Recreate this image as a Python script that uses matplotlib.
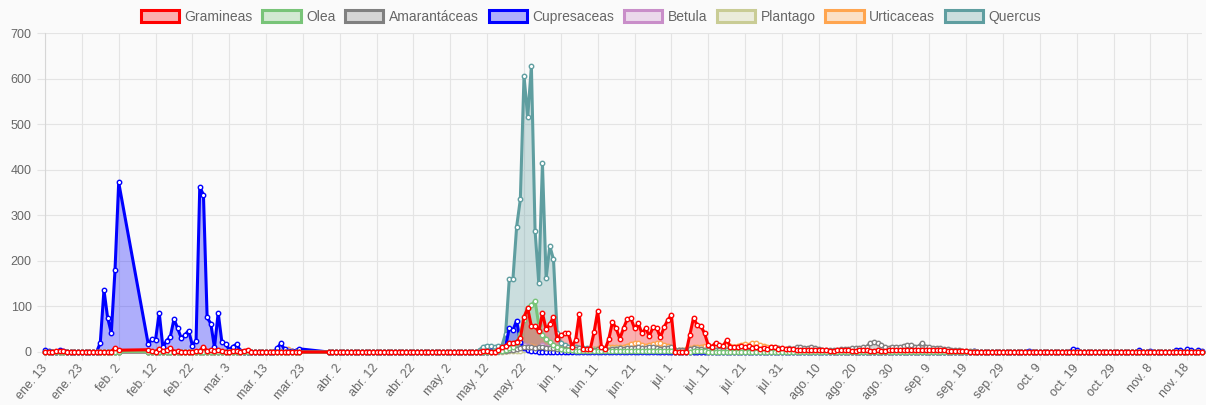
import numpy as np
import pandas as pd
import matplotlib
matplotlib.use("Agg")
import matplotlib.pyplot as plt
from matplotlib.patches import Patch

plt.rcParams["font.family"] = ["Liberation Sans", "DejaVu Sans"]

# days with data: three runs of daily samples (gaps are joined by straight lines)
DATE_SPANS = [("2020-01-13", "2020-02-02"),
              ("2020-02-10", "2020-03-22"),
              ("2020-03-30", "2020-11-22")]
MONTHS_ES = ["ene", "feb", "mar", "abr", "may", "jun", "jul", "ago", "sep", "oct", "nov", "dic"]

# values: ene 13-feb 2 (21) | feb 10-mar 22 (42) | mar 30-nov 22 (rows of 10, last row 8)
GRAMINEAS = [
    0, 1, 1, 2, 3, 2, 1, 0, 0, 0, 0, 0, 0, 0, 1, 1, 1, 0, 1, 9, 4,
    5, 2, 1, 7, 2, 4, 9, 1, 2, 1, 1, 1, 1, 2, 3, 12, 2, 5, 3, 5, 2,
    1, 1, 3, 2, 1, 3, 5, 0, 0, 0, 0, 0, 0, 0, 0, 0, 0, 1, 0, 0, 0,
    0, 0, 0, 0, 0, 0, 0, 0, 0, 0,          # mar 30
    0, 0, 0, 0, 0, 0, 0, 0, 0, 0,          # abr 9
    0, 0, 0, 0, 0, 0, 0, 0, 0, 0,          # abr 19
    0, 0, 0, 0, 0, 0, 0, 0, 0, 0,          # abr 29
    0, 1, 2, 2, 0, 0, 4, 10, 13, 19,       # may 9
    20, 23, 30, 77, 96, 56, 56, 45, 85, 50,  # may 19
    61, 77, 28, 37, 41, 42, 12, 26, 83, 6,   # may 29
    7, 7, 43, 90, 12, 6, 28, 66, 52, 29,     # jun 8
    52, 72, 74, 52, 63, 41, 52, 35, 54, 53,  # jun 18
    32, 54, 70, 81, 0, 0, 0, 0, 37, 75,      # jun 28
    59, 57, 41, 15, 12, 20, 15, 13, 26, 12,  # jul 8
    10, 10, 13, 10, 13, 8, 11, 7, 9, 6,      # jul 18
    10, 12, 7, 8, 7, 6, 6, 5, 5, 5,        # jul 28
    4, 4, 4, 4, 4, 4, 3, 3, 4, 5,          # ago 7
    4, 4, 3, 3, 4, 4, 4, 3, 3, 4,          # ago 17
    3, 3, 4, 4, 4, 4, 5, 4, 4, 4,          # ago 27
    5, 5, 4, 4, 5, 4, 4, 4, 3, 3,          # sep 6
    3, 2, 2, 2, 1, 0, 0, 0, 0, 0,          # sep 16
    0, 0, 1, 0, 0, 0, 0, 0, 0, 0,          # sep 26
    0, 0, 0, 0, 0, 1, 0, 0, 0, 0,          # oct 6
    0, 0, 0, 0, 0, 0, 0, 0, 0, 0,          # oct 16
    0, 0, 0, 0, 0, 0, 0, 0, 0, 0,          # oct 26
    0, 0, 0, 0, 0, 0, 0, 0, 0, 0,          # nov 5
    0, 0, 0, 0, 0, 0, 0, 0,                # nov 15
]

OLEA = [
    0, 0, 0, 0, 0, 0, 0, 0, 0, 0, 0, 0, 0, 0, 0, 0, 1, 1, 1, 1, 1,
    1, 1, 1, 1, 1, 1, 1, 1, 1, 1, 1, 1, 1, 1, 1, 1, 1, 1, 1, 1, 0,
    0, 0, 0, 0, 0, 0, 0, 0, 0, 0, 0, 0, 0, 0, 0, 0, 0, 0, 0, 0, 0,
    0, 0, 0, 0, 0, 0, 0, 0, 0, 0,          # mar 30
    0, 0, 0, 0, 0, 0, 0, 0, 0, 0,          # abr 9
    0, 0, 0, 0, 0, 0, 0, 0, 0, 0,          # abr 19
    0, 0, 0, 0, 0, 0, 0, 0, 0, 0,          # abr 29
    0, 0, 1, 1, 1, 2, 2, 3, 5, 8,          # may 9
    12, 20, 40, 70, 97, 103, 112, 60, 38, 28,  # may 19
    22, 15, 10, 6, 5, 4, 4, 3, 3, 2,       # may 29
    2, 2, 2, 2, 2, 2, 2, 2, 2, 2,          # jun 8
    2, 2, 2, 2, 2, 2, 2, 2, 2, 2,          # jun 18
    2, 2, 2, 2, 1, 1, 1, 1, 1, 2,          # jun 28
    2, 2, 2, 1, 1, 1, 1, 1, 1, 1,          # jul 8
    1, 1, 1, 1, 1, 1, 1, 1, 1, 1,          # jul 18
    1, 1, 1, 1, 0, 0, 0, 0, 0, 0,          # jul 28
    0, 0, 0, 0, 0, 0, 0, 0, 0, 0,          # ago 7
    0, 0, 0, 0, 0, 0, 0, 0, 0, 0,          # ago 17
    0, 0, 0, 0, 0, 0, 0, 0, 0, 0,          # ago 27
    0, 0, 0, 0, 0, 0, 0, 0, 0, 0,          # sep 6
    0, 0, 0, 0, 0, 0, 0, 0, 0, 0,          # sep 16
    0, 0, 0, 0, 0, 0, 0, 0, 0, 0,          # sep 26
    0, 0, 0, 0, 0, 0, 0, 0, 0, 0,          # oct 6
    0, 0, 0, 0, 0, 0, 0, 0, 0, 0,          # oct 16
    0, 0, 0, 0, 0, 0, 0, 0, 0, 0,          # oct 26
    0, 0, 0, 0, 0, 0, 0, 0, 0, 0,          # nov 5
    0, 0, 0, 0, 0, 0, 0, 0,                # nov 15
]

AMARANTACEAS = [
    0, 0, 0, 0, 0, 0, 0, 0, 0, 0, 0, 0, 0, 0, 0, 0, 0, 0, 0, 0, 0,
    0, 0, 0, 0, 0, 0, 0, 0, 0, 0, 0, 0, 0, 0, 0, 0, 0, 0, 0, 0, 0,
    0, 0, 0, 0, 0, 0, 0, 0, 0, 0, 0, 0, 0, 0, 0, 0, 0, 0, 0, 0, 0,
    0, 0, 0, 0, 0, 0, 0, 0, 0, 0,          # mar 30
    0, 0, 0, 0, 0, 0, 0, 0, 0, 0,          # abr 9
    0, 0, 0, 0, 0, 0, 0, 0, 0, 0,          # abr 19
    0, 0, 0, 0, 0, 0, 0, 0, 0, 0,          # abr 29
    0, 0, 1, 1, 1, 2, 2, 3, 3, 4,          # may 9
    5, 6, 8, 10, 12, 10, 8, 10, 12, 9,     # may 19
    8, 8, 7, 6, 6, 5, 5, 6, 8, 6,          # may 29
    5, 4, 5, 6, 7, 6, 5, 6, 7, 8,          # jun 8
    7, 8, 9, 8, 10, 8, 9, 12, 10, 8,       # jun 18
    7, 8, 9, 10, 5, 4, 4, 5, 6, 8,         # jun 28
    7, 6, 5, 5, 4, 4, 5, 4, 4, 3,          # jul 8
    3, 3, 4, 3, 3, 3, 4, 5, 6, 5,          # jul 18
    4, 6, 8, 6, 5, 8, 7, 10, 12, 8,        # jul 28
    9, 10, 8, 6, 5, 5, 4, 4, 5, 6,         # ago 7
    7, 6, 8, 9, 8, 10, 12, 20, 22, 20,     # ago 17
    15, 10, 9, 12, 12, 10, 14, 15, 16, 12,  # ago 27
    12, 20, 12, 10, 8, 9, 8, 7, 6, 5,      # sep 6
    5, 4, 3, 3, 2, 2, 1, 1, 1, 1,          # sep 16
    1, 1, 1, 0, 0, 0, 0, 0, 0, 0,          # sep 26
    0, 0, 0, 0, 0, 0, 0, 0, 0, 0,          # oct 6
    0, 0, 0, 0, 0, 0, 0, 0, 0, 0,          # oct 16
    0, 0, 0, 0, 0, 0, 0, 0, 0, 0,          # oct 26
    0, 0, 0, 0, 0, 0, 0, 0, 0, 0,          # nov 5
    0, 0, 0, 0, 0, 0, 0, 0,                # nov 15
]

CUPRESACEAS = [
    4, 2, 1, 1, 4, 3, 1, 0, 0, 0, 0, 0, 0, 0, 0, 20, 136, 75, 42, 180, 372,
    18, 28, 27, 86, 10, 25, 33, 72, 52, 30, 38, 47, 14, 25, 362, 345, 76, 62, 10, 86, 22,
    18, 5, 12, 17, 3, 1, 0, 0, 0, 0, 0, 0, 0, 0, 8, 19, 6, 3, 2, 3, 7,
    0, 0, 0, 0, 0, 0, 0, 0, 0, 0,          # mar 30
    0, 0, 0, 0, 0, 0, 0, 0, 0, 0,          # abr 9
    0, 0, 0, 0, 0, 0, 0, 0, 0, 0,          # abr 19
    0, 0, 0, 0, 0, 0, 0, 0, 0, 0,          # abr 29
    0, 0, 1, 1, 2, 2, 3, 5, 12, 53,        # may 9
    48, 69, 22, 8, 4, 2, 2, 1, 1, 1,       # may 19
    1, 1, 0, 0, 0, 0, 0, 0, 0, 0,          # may 29
    0, 0, 0, 0, 0, 0, 0, 0, 0, 0,          # jun 8
    0, 0, 0, 0, 0, 0, 0, 0, 0, 0,          # jun 18
    0, 0, 0, 0, 0, 0, 0, 0, 0, 0,          # jun 28
    0, 0, 0, 0, 0, 0, 0, 0, 0, 0,          # jul 8
    0, 0, 0, 0, 0, 0, 0, 0, 0, 0,          # jul 18
    0, 0, 0, 0, 0, 0, 0, 0, 0, 0,          # jul 28
    0, 0, 0, 0, 0, 0, 0, 0, 0, 0,          # ago 7
    0, 0, 0, 0, 0, 0, 0, 0, 0, 0,          # ago 17
    0, 0, 0, 0, 0, 0, 0, 0, 0, 0,          # ago 27
    0, 0, 0, 0, 0, 0, 0, 0, 0, 0,          # sep 6
    0, 0, 0, 0, 0, 2, 0, 0, 0, 0,          # sep 16
    0, 0, 0, 0, 0, 0, 0, 0, 0, 0,          # sep 26
    3, 0, 0, 0, 0, 0, 0, 0, 0, 0,          # oct 6
    0, 0, 7, 5, 0, 0, 0, 0, 0, 0,          # oct 16
    0, 0, 0, 0, 0, 0, 0, 0, 0, 0,          # oct 26
    5, 0, 0, 3, 0, 0, 0, 0, 0, 0,          # nov 5
    5, 5, 0, 6, 4, 0, 4, 3,                # nov 15
]

BETULA = [
    0, 0, 0, 0, 0, 0, 0, 0, 0, 0, 0, 0, 0, 0, 0, 0, 0, 0, 0, 0, 0,
    0, 0, 0, 0, 0, 0, 0, 0, 0, 0, 0, 0, 0, 0, 0, 0, 0, 0, 0, 0, 0,
    0, 0, 0, 0, 0, 0, 0, 0, 0, 0, 0, 0, 0, 0, 0, 0, 0, 0, 0, 0, 0,
    0, 0, 0, 0, 0, 0, 0, 0, 0, 0,          # mar 30
    0, 0, 0, 0, 0, 0, 0, 0, 0, 0,          # abr 9
    0, 0, 0, 0, 0, 0, 0, 0, 0, 0,          # abr 19
    0, 0, 0, 0, 0, 0, 0, 0, 0, 0,          # abr 29
    0, 0, 0, 0, 1, 1, 2, 3, 4, 5,          # may 9
    6, 8, 10, 15, 13, 10, 8, 12, 15, 12,   # may 19
    10, 8, 6, 5, 4, 4, 3, 3, 3, 3,         # may 29
    2, 2, 2, 2, 2, 2, 2, 2, 2, 2,          # jun 8
    2, 2, 2, 2, 2, 2, 2, 2, 2, 2,          # jun 18
    1, 1, 1, 1, 1, 1, 1, 1, 1, 1,          # jun 28
    1, 1, 1, 0, 0, 0, 0, 0, 0, 0,          # jul 8
    0, 0, 0, 0, 0, 0, 0, 0, 0, 0,          # jul 18
    0, 0, 0, 0, 0, 0, 0, 0, 0, 0,          # jul 28
    0, 0, 0, 0, 0, 0, 0, 0, 0, 0,          # ago 7
    0, 0, 0, 0, 0, 0, 0, 0, 0, 0,          # ago 17
    0, 0, 0, 0, 0, 0, 0, 0, 0, 0,          # ago 27
    0, 0, 0, 0, 0, 0, 0, 0, 0, 0,          # sep 6
    0, 0, 0, 0, 0, 0, 0, 0, 0, 0,          # sep 16
    0, 0, 0, 0, 0, 0, 0, 0, 0, 0,          # sep 26
    0, 0, 0, 0, 0, 0, 0, 0, 0, 0,          # oct 6
    0, 0, 0, 0, 0, 0, 0, 0, 0, 0,          # oct 16
    0, 0, 0, 0, 0, 0, 0, 0, 0, 0,          # oct 26
    0, 0, 0, 0, 0, 0, 0, 0, 0, 0,          # nov 5
    0, 0, 0, 0, 0, 0, 0, 0,                # nov 15
]

PLANTAGO = [
    0, 0, 0, 0, 0, 0, 0, 0, 0, 0, 0, 0, 0, 0, 0, 0, 0, 0, 0, 0, 0,
    0, 0, 0, 0, 0, 0, 0, 0, 0, 0, 0, 0, 0, 0, 0, 0, 0, 0, 0, 0, 0,
    0, 0, 0, 0, 0, 0, 0, 0, 0, 0, 0, 0, 0, 0, 0, 0, 0, 0, 0, 0, 0,
    0, 0, 0, 0, 0, 0, 0, 0, 0, 0,          # mar 30
    0, 0, 0, 0, 0, 0, 0, 0, 0, 0,          # abr 9
    0, 0, 0, 0, 0, 0, 0, 0, 0, 0,          # abr 19
    0, 0, 0, 0, 0, 0, 0, 0, 0, 0,          # abr 29
    0, 0, 0, 0, 0, 1, 1, 1, 2, 2,          # may 9
    2, 3, 3, 4, 4, 5, 5, 5, 6, 6,          # may 19
    5, 5, 4, 4, 5, 5, 6, 6, 5, 5,          # may 29
    5, 6, 6, 7, 7, 6, 6, 7, 8, 8,          # jun 8
    7, 8, 8, 7, 8, 8, 7, 7, 8, 8,          # jun 18
    7, 7, 8, 8, 4, 4, 4, 5, 6, 7,          # jun 28
    6, 6, 5, 5, 5, 5, 6, 6, 6, 5,          # jul 8
    5, 5, 5, 4, 4, 5, 5, 4, 4, 4,          # jul 18
    3, 3, 3, 3, 3, 3, 2, 2, 2, 2,          # jul 28
    2, 2, 2, 2, 2, 2, 2, 1, 1, 1,          # ago 7
    1, 1, 1, 1, 1, 1, 1, 1, 1, 1,          # ago 17
    1, 1, 1, 1, 1, 1, 1, 1, 1, 1,          # ago 27
    1, 1, 1, 1, 1, 1, 1, 0, 0, 0,          # sep 6
    0, 0, 0, 0, 0, 0, 0, 0, 0, 0,          # sep 16
    0, 0, 0, 0, 0, 0, 0, 0, 0, 0,          # sep 26
    0, 0, 0, 0, 0, 0, 0, 0, 0, 0,          # oct 6
    0, 0, 0, 0, 0, 0, 0, 0, 0, 0,          # oct 16
    0, 0, 0, 0, 0, 0, 0, 0, 0, 0,          # oct 26
    0, 0, 0, 0, 0, 0, 0, 0, 0, 0,          # nov 5
    0, 0, 0, 0, 0, 0, 0, 0,                # nov 15
]

URTICACEAS = [
    0, 0, 0, 0, 0, 0, 0, 0, 0, 0, 0, 0, 0, 0, 0, 0, 0, 0, 0, 0, 0,
    0, 0, 0, 0, 0, 0, 0, 0, 0, 0, 0, 0, 0, 0, 0, 0, 0, 0, 0, 0, 0,
    0, 0, 0, 0, 0, 0, 0, 0, 0, 0, 0, 0, 0, 0, 0, 0, 3, 6, 3, 0, 0,
    0, 0, 0, 0, 0, 0, 0, 0, 0, 0,          # mar 30
    0, 0, 0, 0, 0, 0, 0, 0, 0, 0,          # abr 9
    0, 0, 0, 0, 0, 0, 0, 0, 0, 0,          # abr 19
    0, 0, 0, 0, 0, 0, 0, 0, 0, 0,          # abr 29
    0, 0, 0, 1, 1, 1, 2, 3, 3, 4,          # may 9
    5, 6, 8, 10, 12, 14, 12, 10, 12, 10,   # may 19
    8, 8, 7, 6, 6, 5, 5, 6, 6, 5,          # may 29
    5, 6, 6, 8, 8, 9, 10, 12, 12, 10,      # jun 8
    12, 14, 18, 20, 19, 16, 14, 15, 18, 19,  # jun 18
    19, 16, 14, 12, 5, 5, 5, 6, 8, 10,     # jun 28
    12, 12, 14, 12, 10, 10, 12, 14, 15, 14,  # jul 8
    12, 14, 16, 18, 16, 20, 19, 16, 14, 12,  # jul 18
    10, 8, 8, 6, 6, 5, 5, 4, 4, 3,         # jul 28
    3, 3, 2, 2, 2, 2, 2, 1, 1, 1,          # ago 7
    1, 1, 1, 1, 1, 1, 1, 1, 0, 0,          # ago 17
    0, 0, 0, 0, 0, 0, 0, 0, 0, 0,          # ago 27
    0, 0, 0, 0, 0, 0, 0, 0, 0, 0,          # sep 6
    0, 0, 0, 0, 0, 0, 0, 0, 0, 0,          # sep 16
    0, 0, 0, 0, 0, 0, 0, 0, 0, 0,          # sep 26
    0, 0, 0, 0, 0, 0, 0, 0, 0, 0,          # oct 6
    0, 0, 0, 0, 0, 0, 0, 0, 0, 0,          # oct 16
    0, 0, 0, 0, 0, 0, 0, 0, 0, 0,          # oct 26
    0, 0, 0, 0, 0, 0, 0, 0, 0, 0,          # nov 5
    0, 0, 0, 0, 0, 0, 0, 0,                # nov 15
]

QUERCUS = [
    0, 0, 0, 0, 0, 0, 0, 0, 0, 0, 0, 0, 0, 0, 0, 0, 0, 0, 0, 0, 0,
    0, 0, 0, 0, 0, 0, 0, 0, 0, 0, 0, 0, 0, 0, 0, 0, 0, 0, 0, 0, 0,
    0, 0, 0, 0, 0, 0, 0, 0, 0, 0, 0, 0, 0, 0, 0, 0, 0, 0, 0, 0, 0,
    0, 0, 0, 0, 0, 0, 0, 0, 0, 0,          # mar 30
    0, 0, 0, 0, 0, 0, 0, 0, 0, 0,          # abr 9
    0, 0, 0, 0, 0, 0, 0, 0, 0, 0,          # abr 19
    0, 0, 0, 0, 0, 0, 0, 0, 0, 0,          # abr 29
    0, 5, 12, 14, 14, 10, 14, 14, 40, 160,  # may 9
    161, 275, 335, 606, 515, 628, 266, 152, 414, 162,  # may 19
    233, 203, 41, 20, 15, 12, 10, 10, 9, 8,  # may 29
    8, 7, 7, 6, 6, 5, 5, 5, 4, 4,          # jun 8
    4, 4, 3, 3, 3, 3, 2, 2, 2, 2,          # jun 18
    2, 2, 2, 1, 1, 1, 1, 1, 1, 1,          # jun 28
    0, 0, 0, 0, 0, 0, 0, 0, 0, 0,          # jul 8
    0, 0, 0, 0, 0, 0, 0, 0, 0, 0,          # jul 18
    0, 0, 0, 0, 0, 0, 0, 0, 0, 0,          # jul 28
    0, 0, 0, 0, 0, 0, 0, 0, 0, 0,          # ago 7
    0, 0, 0, 0, 0, 0, 0, 0, 0, 0,          # ago 17
    0, 0, 0, 0, 0, 0, 0, 0, 0, 0,          # ago 27
    0, 0, 0, 0, 0, 0, 0, 0, 0, 0,          # sep 6
    0, 0, 0, 0, 0, 0, 0, 0, 0, 0,          # sep 16
    0, 0, 0, 0, 0, 0, 0, 0, 0, 0,          # sep 26
    0, 0, 0, 0, 0, 0, 0, 0, 0, 0,          # oct 6
    0, 0, 0, 0, 0, 0, 0, 0, 0, 0,          # oct 16
    0, 0, 0, 0, 0, 0, 0, 0, 0, 0,          # oct 26
    0, 0, 0, 0, 0, 0, 0, 0, 0, 0,          # nov 5
    0, 0, 0, 0, 0, 0, 0, 0,                # nov 15
]

SERIES = [
    ("Gramineas", GRAMINEAS, "#ff0000"),
    ("Olea", OLEA, "#78c478"),
    ("Amarantáceas", AMARANTACEAS, "#808080"),
    ("Cupresaceas", CUPRESACEAS, "#0000ff"),
    ("Betula", BETULA, "#c98ec9"),
    ("Plantago", PLANTAGO, "#c9cc95"),
    ("Urticaceas", URTICACEAS, "#ffa54f"),
    ("Quercus", QUERCUS, "#5f9ea0"),
]

dates = pd.DatetimeIndex(np.concatenate([pd.date_range(a, b, freq="D").values
                                         for a, b in DATE_SPANS]))
bad = [(name, len(vals)) for name, vals, _ in SERIES if len(vals) != len(dates)]
assert not bad, (bad, len(dates))

BG = "#fafafa"
GRID = "#e4e4e4"
TXT = "#666666"

fig = plt.figure(figsize=(12.06, 4.05), dpi=100, facecolor=BG)
ax = fig.add_axes([45 / 1206, 53 / 405, 1157 / 1206, 319 / 405], facecolor=BG)

n = len(SERIES)
for i, (name, vals, col) in enumerate(SERIES):
    # chart.js: first dataset on top, all fills under all lines
    ax.fill_between(dates, 0, vals, color=col, alpha=0.3, lw=0, zorder=1 + (n - i) * 0.01)
    ax.plot(dates, vals, color=col, lw=2.2, marker="o", ms=3.2, mfc="white",
            mec=col, mew=1.0, zorder=3 + (n - i) * 0.1, clip_on=False)

ticks = pd.date_range(dates[0], dates[-1], freq="10D")
ax.set_xticks(ticks)
ax.set_xticklabels([f"{MONTHS_ES[t.month - 1]}. {t.day}" for t in ticks],
                   rotation=50, ha="right", va="center", rotation_mode="anchor")
ax.set_xlim(dates[0], dates[-1])
ax.set_ylim(0, 700)
ax.set_yticks(range(0, 701, 100))

ax.grid(True, color=GRID, lw=0.8)
ax.set_axisbelow(True)
ax.tick_params(axis="both", colors=GRID, labelcolor=TXT, labelsize=9, length=6, width=0.8)
ax.tick_params(axis="x", pad=4)
for s in ("top", "right"):
    ax.spines[s].set_visible(False)
for s in ("left", "bottom"):
    ax.spines[s].set_color("#d6d6d6")
    ax.spines[s].set_linewidth(0.8)

handles = [Patch(facecolor=matplotlib.colors.to_rgba(c, 0.3), edgecolor=c, linewidth=2.2)
           for _, _, c in SERIES]
leg = fig.legend(handles, [s[0] for s in SERIES], loc="upper center",
                 bbox_to_anchor=(591 / 1206, 1.0), ncol=n, frameon=False, fontsize=10,
                 handlelength=2.75, handleheight=0.9, handletextpad=0.4,
                 columnspacing=0.7, borderaxespad=0.3)
for t in leg.get_texts():
    t.set_color(TXT)

fig.savefig("out.png", dpi=100, facecolor=BG)
